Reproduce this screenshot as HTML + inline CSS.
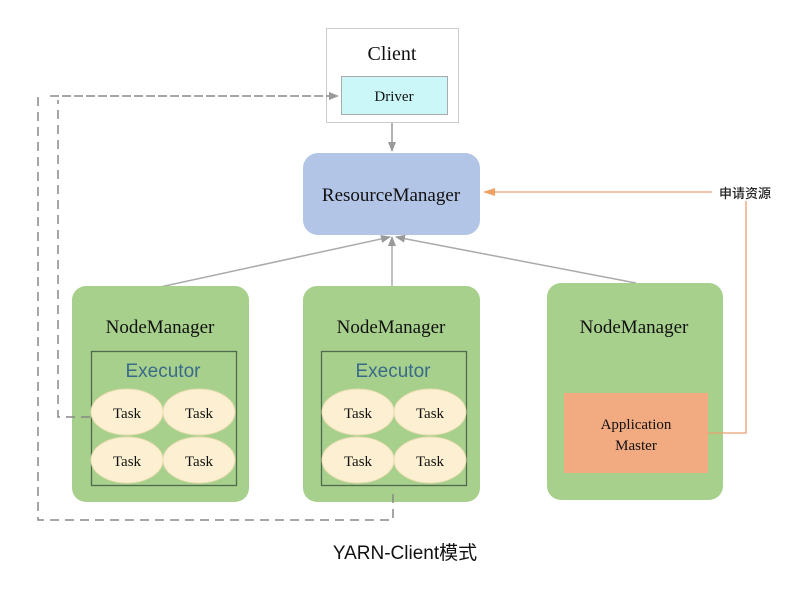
<!DOCTYPE html>
<html><head><meta charset="utf-8"><style>
body{margin:0;background:#fff;width:785px;height:589px;overflow:hidden}
text{font-family:"Liberation Serif","Noto Serif CJK SC",serif;fill:#111}
</style></head><body>
<svg width="785" height="589" xmlns="http://www.w3.org/2000/svg">
<defs>
<marker id="g" markerWidth="10" markerHeight="10" refX="9" refY="5" orient="auto" markerUnits="userSpaceOnUse"><path d="M0,1 L10,5 L0,9 z" fill="#999"/></marker>
<marker id="o" markerWidth="12" markerHeight="10" refX="11" refY="5" orient="auto" markerUnits="userSpaceOnUse"><path d="M0,1 L12,5 L0,9 z" fill="#f0a060"/></marker>
</defs>
<rect x="326.5" y="28.5" width="132" height="94" fill="#fff" stroke="#ccc"/>
<text x="392" y="60" font-size="20" text-anchor="middle">Client</text>
<rect x="341.5" y="76.5" width="106" height="38" fill="#ccf7f8" stroke="#aaa"/>
<text x="394" y="101" font-size="15" text-anchor="middle">Driver</text>
<line x1="392" y1="123" x2="392" y2="151" stroke="#999" stroke-width="1.5" marker-end="url(#g)"/>
<rect x="303" y="153" width="177" height="82" rx="15" fill="#b3c5e6"/>
<text x="391" y="201" font-size="19" text-anchor="middle">ResourceManager</text>
<line x1="160" y1="287" x2="390" y2="237" stroke="#aaa" stroke-width="1.5" marker-end="url(#g)"/>
<line x1="392" y1="286" x2="392" y2="237" stroke="#aaa" stroke-width="1.5" marker-end="url(#g)"/>
<line x1="636" y1="283" x2="396" y2="237" stroke="#aaa" stroke-width="1.5" marker-end="url(#g)"/>
<rect x="72" y="286" width="177" height="216" rx="14" fill="#a7d08c"/>
<text x="160" y="333" font-size="19" text-anchor="middle">NodeManager</text>
<rect x="91.5" y="351.5" width="145" height="134" fill="none" stroke="#4f6a4f" stroke-width="1.3"/>
<text x="163" y="377" font-size="19" text-anchor="middle" style="font-family:'Liberation Sans',sans-serif;fill:#3a6a8a">Executor</text>
<rect x="303" y="286" width="177" height="216" rx="14" fill="#a7d08c"/>
<text x="391" y="333" font-size="19" text-anchor="middle">NodeManager</text>
<rect x="321.5" y="351.5" width="145" height="134" fill="none" stroke="#4f6a4f" stroke-width="1.3"/>
<text x="393" y="377" font-size="19" text-anchor="middle" style="font-family:'Liberation Sans',sans-serif;fill:#3a6a8a">Executor</text>
<g fill="#fdf0d2" stroke="#e8dcb0" stroke-width="1">
<ellipse cx="127" cy="412" rx="36" ry="23"/><ellipse cx="199" cy="412" rx="36" ry="23"/>
<ellipse cx="127" cy="460" rx="36" ry="23"/><ellipse cx="199" cy="460" rx="36" ry="23"/>
<ellipse cx="358" cy="412" rx="36" ry="23"/><ellipse cx="430" cy="412" rx="36" ry="23"/>
<ellipse cx="358" cy="460" rx="36" ry="23"/><ellipse cx="430" cy="460" rx="36" ry="23"/>
</g>
<g font-size="15" text-anchor="middle">
<text x="127" y="418">Task</text><text x="199" y="418">Task</text>
<text x="127" y="466">Task</text><text x="199" y="466">Task</text>
<text x="358" y="418">Task</text><text x="430" y="418">Task</text>
<text x="358" y="466">Task</text><text x="430" y="466">Task</text>
</g>
<rect x="547" y="283" width="176" height="217" rx="14" fill="#a7d08c"/>
<text x="634" y="333" font-size="19" text-anchor="middle">NodeManager</text>
<rect x="564" y="393" width="144" height="80" fill="#f2aa80"/>
<text x="636" y="429" font-size="15" text-anchor="middle">Application</text>
<text x="636" y="450" font-size="15" text-anchor="middle">Master</text>
<polyline points="708,433 746,433 746,192 484,192" fill="none" stroke="#e8a070" stroke-width="1.3" marker-end="url(#o)"/>
<rect x="712" y="183" width="66" height="18" fill="#fff"/>
<text x="745" y="198" font-size="13" text-anchor="middle" style="font-family:'Noto Sans CJK SC',sans-serif;font-weight:500;fill:#222">申请资源</text>
<g fill="none" stroke="#888" stroke-width="1.5" stroke-dasharray="9,6">
<polyline points="38,97 38,520 393,520 393,488"/>
<polyline points="90,417 58,417 58,100"/>
</g>
<line x1="50" y1="96" x2="338" y2="96" stroke="#888" stroke-width="1.5" stroke-dasharray="9,3" marker-end="url(#g)"/>
<text x="405" y="559" font-size="19" text-anchor="middle" style="font-family:'Liberation Sans','Noto Sans CJK SC',sans-serif">YARN-Client模式</text>
</svg>
</body></html>
